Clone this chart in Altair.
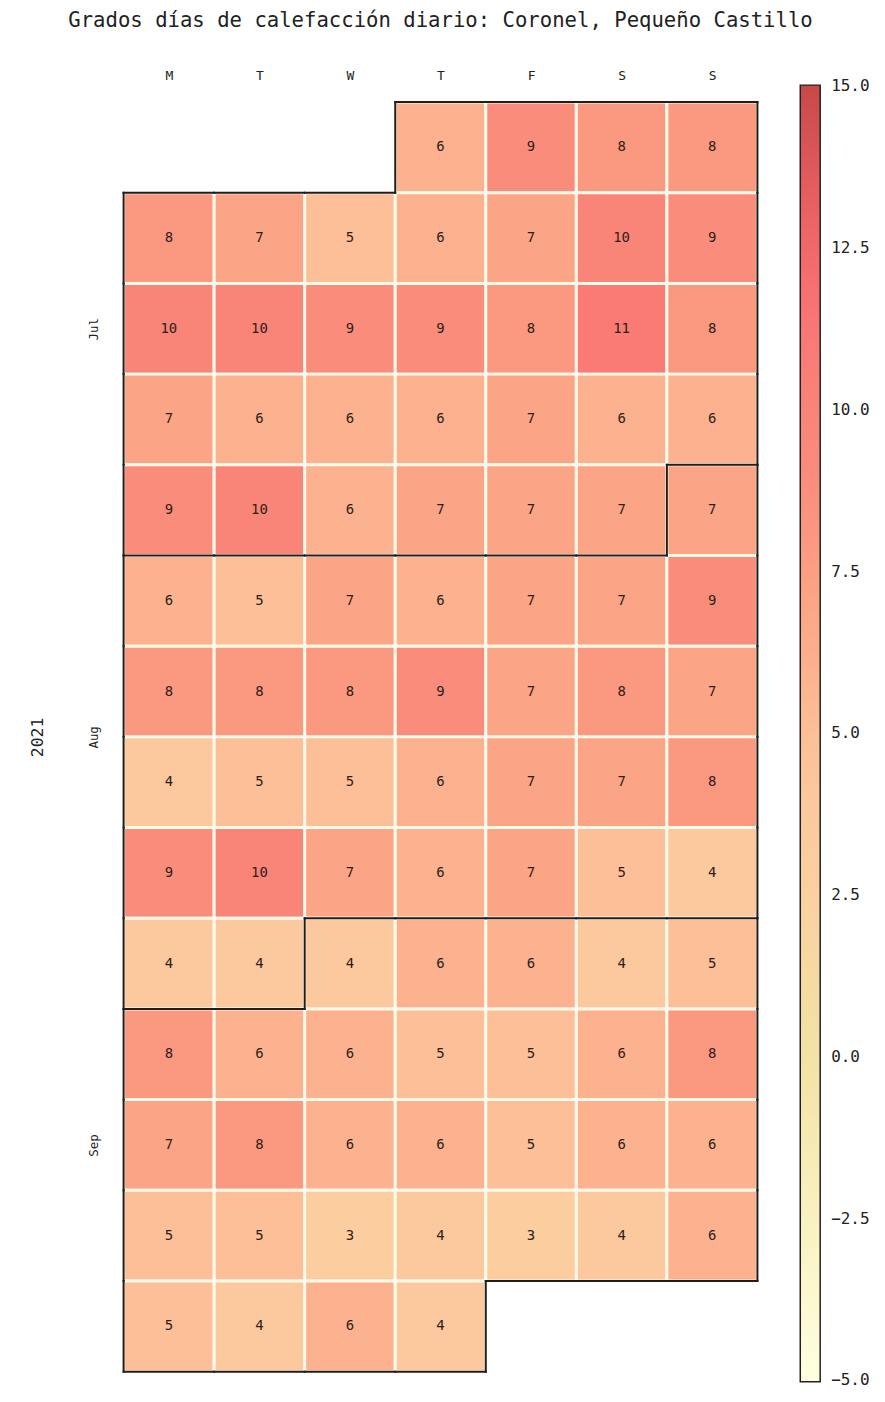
import datetime
import altair as alt
import pandas as pd

# ---- data ----
year = 2021
start_date = "2021-07-01"
jul_values = [6, 9, 8, 8,
              8, 7, 5, 6, 7, 10, 9,
              10, 10, 9, 9, 8, 11, 8,
              7, 6, 6, 6, 7, 6, 6,
              9, 10, 6, 7, 7, 7]
aug_values = [7,
              6, 5, 7, 6, 7, 7, 9,
              8, 8, 8, 9, 7, 8, 7,
              4, 5, 5, 6, 7, 7, 8,
              9, 10, 7, 6, 7, 5, 4,
              4, 4]
sep_values = [4, 6, 6, 4, 5,
              8, 6, 6, 5, 5, 6, 8,
              7, 8, 6, 6, 5, 6, 6,
              5, 5, 3, 4, 3, 4, 6,
              5, 4, 6, 4]
day_labels = ["M", "T", "W", "T", "F", "S", "S"]
month_names = {7: "Jul", 8: "Aug", 9: "Sep"}
legend_ticks = [-5.0, -2.5, 0.0, 2.5, 5.0, 7.5, 10.0, 12.5, 15.0]
color_domain = [-5.02, -2.5, 0, 2.5, 4, 5, 6, 7, 8, 9, 10, 11, 12.5, 15.02]
color_range = ["#ffffe0", "#f9f1c0", "#f2e2a6", "#fad0a0", "#fcc89e", "#fcbf98",
               "#fcb28e", "#fca586", "#fb9880", "#fa8c7c", "#f98478", "#fa7a76",
               "#f26a6a", "#c94848"]
title_text = "Grados días de calefacción diario: Coronel, Pequeño Castillo"

# ---- build calendar table ----
values = jul_values + aug_values + sep_values
d0 = datetime.date.fromisoformat(start_date)
rows = []
for i, v in enumerate(values):
    d = d0 + datetime.timedelta(days=i)
    col = d.weekday()
    row = (i + d0.weekday()) // 7
    rows.append({"date": d.isoformat(), "value": v, "month": d.month,
                 "x0": col, "x1": col + 1, "y0": row, "y1": row + 1,
                 "xc": col + 0.5, "yc": row + 0.5})
df = pd.DataFrame(rows)
n_rows = int(df["y1"].max())

# month borders
cells = {(r["y0"], r["x0"]): r["month"] for r in rows}
segs = set()
for (r, c), m in cells.items():
    if cells.get((r - 1, c)) != m:
        segs.add((c, r, c + 1, r))
    if cells.get((r + 1, c)) != m:
        segs.add((c, r + 1, c + 1, r + 1))
    if cells.get((r, c - 1)) != m:
        segs.add((c, r, c, r + 1))
    if cells.get((r, c + 1)) != m:
        segs.add((c + 1, r, c + 1, r + 1))
border_df = pd.DataFrame(sorted(segs), columns=["bx", "by", "bx2", "by2"])

# month label positions (mean week row of each month)
month_pos = df.groupby("month")["y0"].apply(lambda s: s.drop_duplicates().mean() + 0.5)
month_vals = [float(v) for v in month_pos.values]
month_labs = [month_names[m] for m in month_pos.index]
month_expr = " : ".join(
    [f"abs(datum.value - {v}) < 0.01 ? '{l}'" for v, l in zip(month_vals, month_labs)]
) + " : ''"
day_expr = "[" + ",".join(f"'{d}'" for d in day_labels) + "][floor(datum.value)]"

FONT = "DejaVu Sans Mono"
PLOT_H = n_rows * 91
xscale = alt.Scale(domain=[0, 7], nice=False, zero=False)
yscale = alt.Scale(domain=[0, n_rows], nice=False, zero=False, reverse=True)

x_axis = alt.Axis(orient="top", values=[i + 0.5 for i in range(7)],
                  labelExpr=day_expr, ticks=False, domain=False, grid=False,
                  labelPadding=20, labelFontSize=13, title=None,
                  labelFont=FONT, labelColor="#222")
y_axis = alt.Axis(orient="left", values=month_vals, labelExpr=month_expr,
                  ticks=False, domain=False, grid=False, labelAngle=270,
                  labelAlign="center", labelBaseline="bottom",
                  labelPadding=23, labelFontSize=12.5, labelFont=FONT,
                  labelColor="#222",
                  title=str(year), titleAngle=270, titleX=-86,
                  titleY=PLOT_H / 2, titleAlign="center",
                  titleBaseline="middle", titleFont=FONT,
                  titleFontSize=16.5, titleFontWeight="normal",
                  titleColor="#222")

cells_layer = alt.Chart(df).mark_rect(stroke="#fffaea", strokeWidth=3).encode(
    x=alt.X("x0:Q", scale=xscale, axis=x_axis),
    x2="x1:Q",
    y=alt.Y("y0:Q", scale=yscale, axis=y_axis),
    y2="y1:Q",
    color=alt.Color("value:Q",
                    scale=alt.Scale(domain=color_domain, range=color_range,
                                    interpolate="rgb"),
                    legend=alt.Legend(title=None, orient="none", legendX=679,
                                      legendY=-17, direction="vertical",
                                      gradientLength=1301, gradientThickness=20,
                                      gradientStrokeColor="#222",
                                      gradientStrokeWidth=1.5,
                                      values=legend_ticks, format=".1f",
                                      labelFont=FONT, labelFontSize=16,
                                      labelOffset=11, labelBaseline="middle",
                                      labelColor="#222", labelOverlap=False)),
)

text_layer = alt.Chart(df).mark_text(font=FONT, fontSize=14, color="#2b2118").encode(
    x=alt.X("xc:Q", scale=xscale, axis=x_axis),
    y=alt.Y("yc:Q", scale=yscale, axis=y_axis),
    text=alt.Text("value:Q", format="d"),
)

border_layer = alt.Chart(border_df).mark_rule(color="#1e1e1e", strokeWidth=2,
                                              strokeCap="square").encode(
    x=alt.X("bx:Q", scale=xscale, axis=x_axis),
    y=alt.Y("by:Q", scale=yscale, axis=y_axis),
    x2="bx2:Q",
    y2="by2:Q",
)

chart = alt.layer(cells_layer, text_layer, border_layer).properties(
    width=636,
    height=PLOT_H,
    title=alt.TitleParams(title_text, font=FONT, fontSize=20.7, fontWeight="normal",
                          color="#222", offset=38, anchor="middle"),
    autosize=alt.AutoSizeParams(type="none"),
    padding={"left": 116, "top": 92, "right": 120, "bottom": 18},
).configure_view(stroke=None)

chart.save("out.html", embed_options={"renderer": "svg", "actions": False})
